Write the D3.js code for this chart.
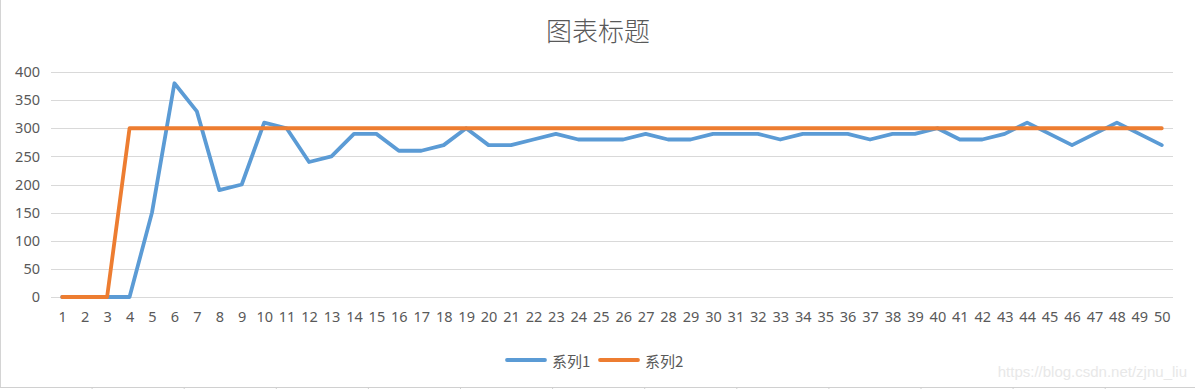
<!DOCTYPE html>
<html>
<head>
<meta charset="utf-8">
<script src="https://cdn.jsdelivr.net/npm/d3@7"></script>
<style>
  html, body { margin: 0; padding: 0; background: #fff; }
  svg { display: block; font-family: "Noto Sans", "Noto Sans CJK SC", sans-serif; }
</style>
</head>
<body>
<svg id="chart" width="1195" height="389"></svg>
<script>
// chart data
const categories = d3.range(1, 51).map(String);
const series1 = [0, 0, 0, 0, 150, 380, 330, 190, 200, 310,
  300, 240, 250, 290, 290, 260, 260, 270, 300, 270,
  270, 280, 290, 280, 280, 280, 290, 280, 280, 290,
  290, 290, 280, 290, 290, 290, 280, 290, 290, 300,
  280, 280, 290, 310, 290, 270, 290, 310, 290, 270];
const series2 = [0, 0, 0, 300, 300, 300, 300, 300, 300, 300,
  300, 300, 300, 300, 300, 300, 300, 300, 300, 300,
  300, 300, 300, 300, 300, 300, 300, 300, 300, 300,
  300, 300, 300, 300, 300, 300, 300, 300, 300, 300,
  300, 300, 300, 300, 300, 300, 300, 300, 300, 300];
const seriesNames = ['系列1', '系列2'];
const yTicks = [0, 50, 100, 150, 200, 250, 300, 350, 400];
const titleText = '图表标题';

const colors = ['#5B9BD5', '#ED7D31'];
const textColor = '#595959';

const svg = d3.select('#chart');
const W = 1195, H = 389;
const plot = { left: 51, right: 1173, top: 72, bottom: 297 };

// sheet-ish frame: left border and bottom cell line
svg.append('line').attr('x1', 0.5).attr('x2', 0.5).attr('y1', 0).attr('y2', 387)
  .attr('stroke', '#d4d4d4').attr('stroke-width', 1);
svg.append('line').attr('x1', 0).attr('x2', W).attr('y1', 387.5).attr('y2', 387.5)
  .attr('stroke', '#d0d0d0').attr('stroke-width', 1);
d3.range(1, 13).forEach(i => {
  svg.append('line').attr('x1', i * 92.1).attr('x2', i * 92.1).attr('y1', 388).attr('y2', 389)
    .attr('stroke', '#d0d0d0');
});

const x = d3.scalePoint().domain(categories).range([plot.left, plot.right]).padding(0.5);
const y = d3.scaleLinear().domain([0, 400]).range([plot.bottom, plot.top]);

// gridlines
svg.append('g').selectAll('line').data(yTicks).join('line')
  .attr('x1', plot.left).attr('x2', plot.right)
  .attr('y1', d => Math.round(y(d)) + 0.5).attr('y2', d => Math.round(y(d)) + 0.5)
  .attr('stroke', '#d9d9d9').attr('stroke-width', 1);

// y axis
const yAxis = svg.append('g').attr('transform', `translate(${plot.left - 11},0)`)
  .call(d3.axisLeft(y).tickValues(yTicks).tickSize(0).tickPadding(0));
yAxis.select('.domain').remove();
yAxis.selectAll('text').attr('fill', textColor).style('font-size', '14.5px')
  .style('font-family', '"Noto Sans", sans-serif');

// x axis
const xAxis = svg.append('g').attr('transform', `translate(0,${plot.bottom})`)
  .call(d3.axisBottom(x).tickSize(0).tickPadding(15));
xAxis.select('.domain').remove();
xAxis.selectAll('text').attr('fill', textColor).style('font-size', '14.5px')
  .style('font-family', '"Noto Sans", sans-serif');

// lines
const line = d3.line().x((d, i) => x(categories[i])).y(d => y(d));
[series1, series2].forEach((s, k) => {
  svg.append('path').datum(s)
    .attr('d', line)
    .attr('fill', 'none')
    .attr('stroke', colors[k])
    .attr('stroke-width', 3.8)
    .attr('stroke-linejoin', 'round')
    .attr('stroke-linecap', 'round');
});

// title
svg.append('text').attr('x', 598).attr('y', 29).attr('text-anchor', 'middle')
  .attr('dominant-baseline', 'central')
  .attr('fill', textColor).style('font-size', '26px')
  .style('font-family', '"Noto Sans CJK SC", sans-serif')
  .style('font-weight', 300)
  .text(titleText);

// legend
const legendItems = [{ x: 505, tx: 552 }, { x: 598, tx: 645 }];
legendItems.forEach((it, k) => {
  svg.append('line').attr('x1', it.x + 2).attr('x2', it.x + 40).attr('y1', 360).attr('y2', 360)
    .attr('stroke', colors[k]).attr('stroke-width', 3.8).attr('stroke-linecap', 'round');
  svg.append('text').attr('x', it.tx).attr('y', 360).attr('dominant-baseline', 'central')
    .attr('fill', textColor).style('font-size', '15px')
    .style('font-family', '"Noto Sans CJK SC", sans-serif')
    .text(seriesNames[k]);
});

// watermark
svg.append('text').attr('x', 1187).attr('y', 371).attr('text-anchor', 'end')
  .attr('dominant-baseline', 'central')
  .attr('fill', '#e8e8e8').style('font-size', '15px')
  .style('font-family', '"Liberation Sans", Arial, sans-serif')
  .text('https://blog.csdn.net/zjnu_liu');
</script>
</body>
</html>
